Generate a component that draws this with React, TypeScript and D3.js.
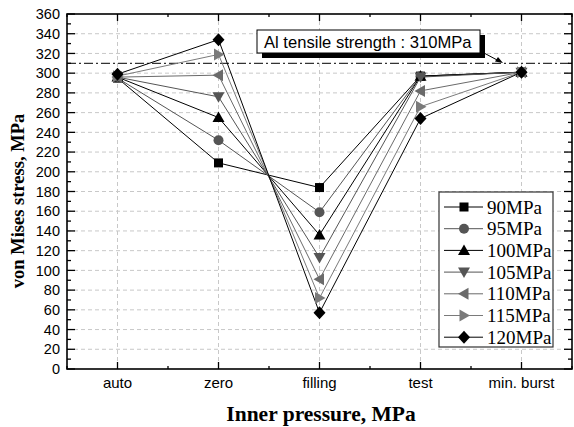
import React from "react";
import * as d3 from "d3";

const categories = ["auto", "zero", "filling", "test", "min. burst"];
const seriesNames = ["90MPa", "95MPa", "100MPa", "105MPa", "110MPa", "115MPa", "120MPa"];
const s90 = [295, 209, 184, 297, 301];
const s95 = [295, 232, 159, 297, 301];
const s100 = [296, 255, 136, 297, 301];
const s105 = [296, 276, 113, 296, 301];
const s110 = [296, 298, 91, 282, 301];
const s115 = [297, 319, 72, 266, 301];
const s120 = [299, 334, 57, 254, 301];
const seriesValues = [s90, s95, s100, s105, s110, s115, s120];
const markerTypes = ["square", "circle", "up", "down", "left", "right", "diamond"];
const colors = ["#000", "#555", "#000", "#555", "#6a6a6a", "#7a7a7a", "#000"];
const yTicks = d3.range(0, 361, 20);
const yMinor = d3.range(0, 361, 10);
const strengthValue = 310;
const annotation = "Al tensile strength : 310MPa";

const W = 574, H = 427;
const L = 67, R = 572, T = 14, B = 369;

function Marker({ type, x, y, color }: { type: string; x: number; y: number; color: string }) {
  switch (type) {
    case "square":
      return <rect x={x - 4.5} y={y - 4.5} width={9} height={9} fill={color} />;
    case "circle":
      return <circle cx={x} cy={y} r={5} fill={color} />;
    case "up":
      return <path d={`M${x},${y - 6} L${x + 6},${y + 4.5} L${x - 6},${y + 4.5}Z`} fill={color} />;
    case "down":
      return <path d={`M${x},${y + 6} L${x + 6},${y - 4.5} L${x - 6},${y - 4.5}Z`} fill={color} />;
    case "left":
      return <path d={`M${x - 6},${y} L${x + 4.5},${y - 6} L${x + 4.5},${y + 6}Z`} fill={color} />;
    case "right":
      return <path d={`M${x + 6},${y} L${x - 4.5},${y - 6} L${x - 4.5},${y + 6}Z`} fill={color} />;
    case "diamond":
      return <path d={`M${x},${y - 6.5} L${x + 6},${y} L${x},${y + 6.5} L${x - 6},${y}Z`} fill={color} />;
  }
  return null;
}

export default function App() {
  const x = d3.scaleLinear().domain([-0.5, categories.length - 0.5]).range([L, R]);
  const y = d3.scaleLinear().domain([0, 360]).range([B, T]);
  const line = d3.line<number>().x((_, i) => x(i)).y((d) => y(d));
  const sans = "'Liberation Sans', Arial, sans-serif";
  const serif = "'Liberation Serif', 'Times New Roman', serif";
  const legX = 439, legY = 192, legW = 114, legH = 155, rowH = 21.7;
  const yS = y(strengthValue);

  return (
    <svg width={W} height={H} style={{ position: "absolute", left: 0, top: 0 }}>
      <rect width={W} height={H} fill="#fff" />
      {yTicks.slice(1, -1).map((t) => (
        <line key={"gy" + t} x1={L} x2={R} y1={y(t)} y2={y(t)} stroke="#c8c8c8" strokeDasharray="4,3" />
      ))}
      {categories.map((c, i) => (
        <line key={"gx" + c} x1={x(i)} x2={x(i)} y1={T} y2={B} stroke="#c8c8c8" strokeDasharray="4,3" />
      ))}
      <line x1={L} x2={R} y1={yS} y2={yS} stroke="#333" strokeWidth={1.3} strokeDasharray="9,3,2,3" />
      {seriesValues.map((vals, si) => (
        <path key={"l" + si} d={line(vals) || ""} fill="none" stroke={colors[si]} strokeWidth={1} />
      ))}
      {seriesValues.map((vals, si) =>
        vals.map((v, i) => <Marker key={"m" + si + "-" + i} type={markerTypes[si]} x={x(i)} y={y(v)} color={colors[si]} />)
      )}
      <rect x={L} y={T} width={R - L} height={B - T} fill="none" stroke="#000" strokeWidth={1.6} />
      {yMinor.map((t) => {
        const len = t % 20 === 0 ? 8 : 4;
        return (
          <g key={"yt" + t}>
            <line x1={L} x2={L + len} y1={y(t)} y2={y(t)} stroke="#000" strokeWidth={1.3} />
            <line x1={R} x2={R - len} y1={y(t)} y2={y(t)} stroke="#000" strokeWidth={1.3} />
          </g>
        );
      })}
      {d3.range(-0.5, categories.length, 0.5).map((t) => {
        const major = Number.isInteger(t);
        const len = major ? 7 : 3;
        return (
          <g key={"xt" + t}>
            <line x1={x(t)} x2={x(t)} y1={B} y2={B - len} stroke="#000" strokeWidth={1.3} />
            <line x1={x(t)} x2={x(t)} y1={T} y2={T + len} stroke="#000" strokeWidth={1.3} />
          </g>
        );
      })}
      {yTicks.map((t) => (
        <text key={"yl" + t} x={60} y={y(t)} dy="0.36em" textAnchor="end" fontFamily={sans} fontSize={14.5} fill="#000">
          {t}
        </text>
      ))}
      {categories.map((c, i) => (
        <text key={"xl" + c} x={x(i)} y={388} textAnchor="middle" fontFamily={sans} fontSize={15} fill="#000">
          {c}
        </text>
      ))}
      <text x={321} y={421} textAnchor="middle" fontFamily={serif} fontWeight="bold" fontSize={21.5}>
        Inner pressure, MPa
      </text>
      <text transform={`translate(24,201) rotate(-90)`} textAnchor="middle" fontFamily={serif} fontWeight="bold" fontSize={18.5}>
        von Mises stress, MPa
      </text>
      <rect x={262} y={35} width={223} height={23} fill="#000" />
      <rect x={257} y={30} width={223} height={23} fill="#fff" stroke="#000" strokeWidth={1} />
      <text x={264} y={47.5} fontFamily={sans} fontSize={16.6} fill="#000">{annotation}</text>
      <line x1={484} y1={53} x2={499} y2={61} stroke="#000" strokeWidth={1} />
      <path d="M503,63 L495,61.5 L498,57Z" fill="#000" />
      <rect x={legX} y={legY} width={legW} height={legH} fill="#fff" stroke="#333" strokeWidth={1.2} />
      {seriesNames.map((n, si) => {
        const ry = legY + 15 + si * rowH;
        return (
          <g key={"lg" + n}>
            <line x1={legX + 5} x2={legX + 44} y1={ry} y2={ry} stroke={colors[si]} strokeWidth={1} />
            <Marker type={markerTypes[si]} x={legX + 25} y={ry} color={colors[si]} />
            <text x={legX + 48} y={ry} dy="0.35em" fontFamily={serif} fontSize={19} fill="#000">
              {n}
            </text>
          </g>
        );
      })}
    </svg>
  );
}
